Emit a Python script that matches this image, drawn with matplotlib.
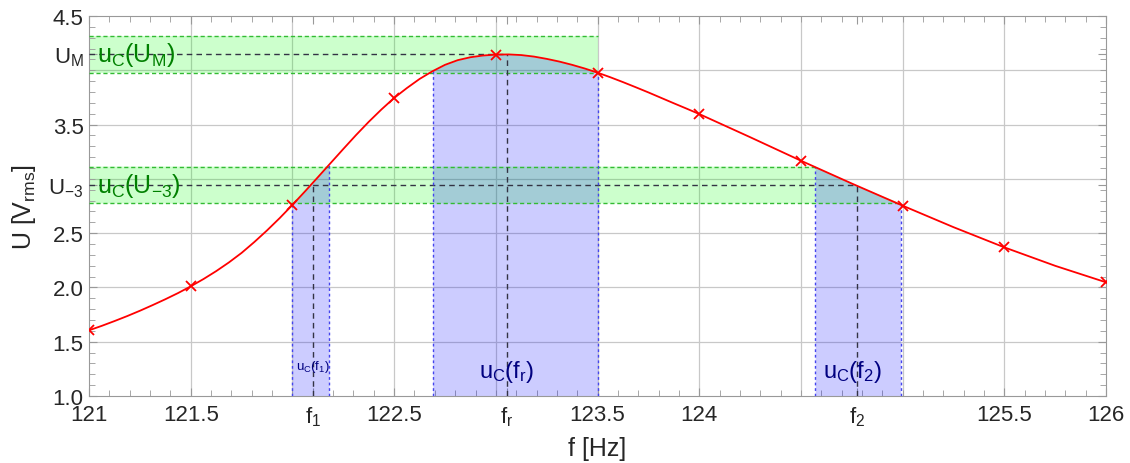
import numpy as np
from matplotlib import pyplot as plt

plt.rcParams['font.family'] = ['Liberation Sans', 'DejaVu Sans']
plt.rcParams['mathtext.default'] = 'regular'

# measured points (f in Hz, U in V rms)
f_meas = [121.0, 121.5, 122.0, 122.5, 123.0, 123.5, 124.0, 124.5, 125.0, 125.5, 126.0]
u_meas = [1.605, 2.01, 2.76, 3.745, 4.144, 3.978, 3.597, 3.167, 2.753, 2.369, 2.047]

# smooth resonance curve through the points
f_curve = [121.0, 121.0625, 121.125, 121.1875, 121.25, 121.3125, 121.375, 121.4375,
           121.5, 121.5625, 121.625, 121.6875, 121.75, 121.8125, 121.875, 121.9375,
           122.0, 122.0625, 122.125, 122.1875, 122.25, 122.3125, 122.375, 122.4375,
           122.5, 122.5625, 122.625, 122.6875, 122.75, 122.8125, 122.875, 122.9375,
           123.0, 123.0625, 123.125, 123.1875, 123.25, 123.3125, 123.375, 123.4375,
           123.5, 123.5625, 123.625, 123.6875, 123.75, 123.8125, 123.875, 123.9375,
           124.0, 124.25, 124.5, 124.75, 125.0, 125.25, 125.5, 125.75, 126.0]
u_curve = [1.605, 1.646, 1.69, 1.736, 1.785, 1.837, 1.891, 1.948,
           2.01, 2.077, 2.15, 2.23, 2.318, 2.418, 2.525, 2.639,
           2.76, 2.886, 3.015, 3.145, 3.275, 3.403, 3.525, 3.639,
           3.745, 3.836, 3.92, 3.99, 4.05, 4.093, 4.12, 4.136,
           4.144, 4.146, 4.14, 4.126, 4.105, 4.08, 4.05, 4.016,
           3.978, 3.936, 3.891, 3.844, 3.796, 3.746, 3.696, 3.647,
           3.597, 3.384, 3.167, 2.957, 2.753, 2.555, 2.369, 2.199, 2.047]

# maximum voltage, -3 dB voltage and their uncertainty
U_M = 4.147
U_3 = 2.943
dU = 0.17

# frequencies with uncertainty intervals (low, value, high)
f1 = (122.0, 122.10, 122.18)
fr = (122.69, 123.055, 123.5)
f2 = (124.57, 124.775, 124.99)

f_curve = np.array(f_curve)
u_curve = np.array(u_curve)


def curve_at(f):
    return np.interp(f, f_curve, u_curve)


green_ls = (0, (3, 2))
blue_ls = (0, (2, 2))
dark_ls = (0, (4, 3))

fig = plt.figure(figsize=(11.3, 4.64), dpi=100)
ax = fig.add_axes([0.0788, 0.1444, 0.9, 0.819])
ax.set_xlim(121, 126)
ax.set_ylim(1.0, 4.5)

# grid every 0.5
for x in np.arange(121.5, 126, 0.5):
    ax.axvline(x, color='#c8c8c8', lw=0.9, zorder=0)
for y in np.arange(1.5, 4.5, 0.5):
    ax.axhline(y, color='#c8c8c8', lw=0.9, zorder=0)

# green band around U_M (up to upper end of fr interval)
ax.fill_between([121, fr[2]], U_M - dU, U_M + dU, color='lime', alpha=0.2, lw=0, zorder=1)
ax.hlines([U_M - dU, U_M + dU], 121, fr[2], colors='#33bb33', linestyles=green_ls, lw=1, zorder=3)
ax.hlines(U_M, 121, fr[1], colors='#333344', linestyles=dark_ls, lw=1, zorder=3)

# green band around U_-3, bounded on the right by the falling side of the curve
inner = f_curve[(f_curve > f2[0]) & (f_curve < f2[2])]
xs = [121, f2[0]] + list(inner) + [f2[2], 121]
ys = [U_3 + dU, U_3 + dU] + list(curve_at(inner)) + [U_3 - dU, U_3 - dU]
ax.fill(xs, ys, color='lime', alpha=0.2, lw=0, zorder=1)
ax.hlines(U_3 + dU, 121, f2[0], colors='#33bb33', linestyles=green_ls, lw=1, zorder=3)
ax.hlines(U_3 - dU, 121, f2[2], colors='#33bb33', linestyles=green_ls, lw=1, zorder=3)
ax.hlines(U_3, 121, f2[1], colors='#333344', linestyles=dark_ls, lw=1, zorder=3)

# blue areas under the curve for f1, fr, f2
for lo, mid, hi in [f1, fr, f2]:
    inner = f_curve[(f_curve > lo) & (f_curve < hi)]
    xs = np.concatenate([[lo], inner, [hi]])
    ax.fill_between(xs, 1.0, curve_at(xs), color='b', alpha=0.2, lw=0, zorder=2)
    ax.vlines([lo, hi], 1.0, curve_at([lo, hi]), colors='#4444ee', linestyles=blue_ls, lw=1, zorder=3)
    ax.vlines(mid, 1.0, curve_at(mid), colors='#333344', linestyles=dark_ls, lw=1, zorder=3)

# curve and measured points
ax.plot(f_curve, u_curve, color='red', lw=1.3, zorder=4)
ax.plot(f_meas, u_meas, 'x', color='red', ms=7, mew=1.3, zorder=5)

# labels of the uncertainties
ax.text(121.04, U_M, '$u_C(U_M)$', color='#008000', fontsize=18, va='center', ha='left', zorder=6)
ax.text(121.04, U_3, '$u_C(U_{-3})$', color='#008000', fontsize=18, va='center', ha='left', zorder=6)
ax.text(f1[1], 1.2, '$u_C(f_1)$', color='#000080', fontsize=9.5, va='bottom', ha='center', zorder=6)
ax.text(fr[1], 1.11, '$u_C(f_r)$', color='#000080', fontsize=17, va='bottom', ha='center', zorder=6)
ax.text(f2[1] - 0.02, 1.11, '$u_C(f_2)$', color='#000080', fontsize=17, va='bottom', ha='center', zorder=6)

ax.set_xticks([121, 121.5, f1[1], 122.5, fr[1], 123.5, 124, f2[1], 125.5, 126])
ax.set_xticklabels(['121', '121.5', '$f_1$', '122.5', '$f_r$', '123.5', '124', '$f_2$', '125.5', '126'])
ax.set_yticks([1.0, 1.5, 2.0, 2.5, U_3, 3.5, U_M, 4.5])
ax.set_yticklabels(['1.0', '1.5', '2.0', '2.5', '$U_{-3}$', '3.5', '$U_M$', '4.5'])
ax.set_xticks(np.arange(121, 126.01, 0.1), minor=True)
ax.set_yticks(np.arange(1.0, 4.51, 0.1), minor=True)
ax.tick_params(which='both', direction='in', top=True, right=True, color='#999999',
               labelcolor='#262626', labelsize=16)
ax.tick_params(which='major', length=6)
ax.tick_params(which='minor', length=4)
ax.tick_params(axis='x', which='major', pad=6)
ax.tick_params(axis='y', which='major', pad=4)
for s in ax.spines.values():
    s.set_color('#999999')

ax.set_xlabel('f [Hz]', fontsize=18, color='#262626')
ax.set_ylabel('U [$V_{rms}$]', fontsize=18, color='#262626')
ax.xaxis.set_label_coords(0.5, -0.106)
ax.yaxis.set_label_coords(-0.05, 0.5)

plt.savefig('out.png', dpi=100)
